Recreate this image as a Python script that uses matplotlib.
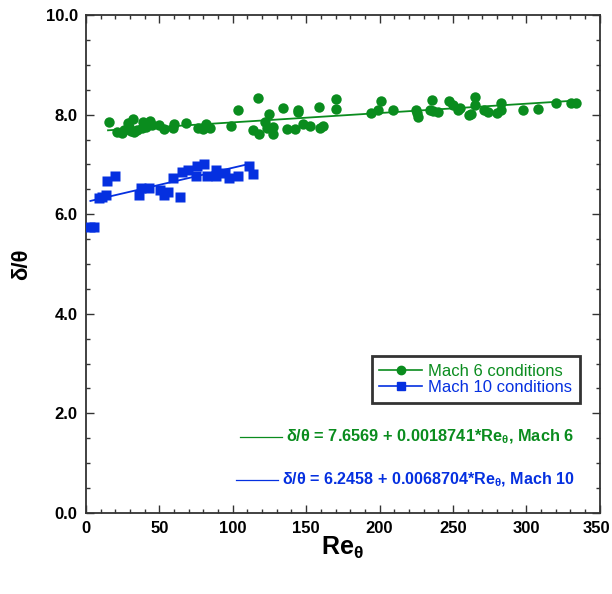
import numpy as np
import matplotlib
matplotlib.use("Agg")
import matplotlib.pyplot as plt
from matplotlib.lines import Line2D
from matplotlib.ticker import MultipleLocator, FixedLocator

plt.rcParams['font.family'] = ['Liberation Sans', 'DejaVu Sans']
plt.rcParams['mathtext.fontset'] = 'custom'
plt.rcParams['mathtext.rm'] = 'Liberation Sans:bold'
plt.rcParams['mathtext.bf'] = 'Liberation Sans:bold'
plt.rcParams['mathtext.it'] = 'Liberation Sans:bold'

# Mach 6 measurements
m6_re = [15.7, 21, 24.5, 28.5, 32, 31, 32.7, 38, 39, 43.6, 49.7, 60, 59, 68, 76, 79.7,
         81.7, 84.4, 98.5, 103.7, 113.5, 116.9, 118, 121.9, 123.5, 124.8, 127.5, 127.5,
         134.4, 136.6, 142.3, 144.1, 144.6, 148, 152.5, 158.7, 159.3, 161.6, 170, 170,
         194, 199, 200.7, 209.3, 224.7, 225.2, 226.3, 235.4, 234.2, 236.5, 239.5, 247.4,
         250.1, 253.5, 254.7, 261, 262.2, 264.9, 265.3, 271.2, 274, 279.7, 282.4, 283,
         297.8, 308, 320, 330.2, 333.6, 26, 29, 35, 41, 45, 53]
m6_dt = [7.85, 7.65, 7.63, 7.83, 7.91, 7.67, 7.65, 7.73, 7.85, 7.87, 7.79, 7.81, 7.73,
         7.83, 7.73, 7.71, 7.81, 7.74, 7.78, 8.09, 7.69, 8.34, 7.62, 7.85, 7.74, 8.01,
         7.76, 7.62, 8.13, 7.71, 7.72, 8.09, 8.05, 7.81, 7.78, 8.15, 7.74, 7.78, 8.31,
         8.11, 8.04, 8.10, 8.27, 8.10, 8.10, 8.04, 7.96, 8.29, 8.10, 8.08, 8.05, 8.28,
         8.19, 8.10, 8.13, 7.99, 8.01, 8.19, 8.35, 8.10, 8.05, 8.04, 8.09, 8.23, 8.10,
         8.11, 8.24, 8.23, 8.24, 7.70, 7.75, 7.69, 7.76, 7.80, 7.72]

# Mach 10 measurements
m10_re = [2.7, 5.4, 8.9, 11.1, 13.4, 14.5, 19.7, 36.1, 37.2, 42.9, 50.4, 53.1, 56.0,
          59.0, 64.0, 65.1, 69.7, 74.9, 75.4, 80.6, 82.2, 88.3, 88.3, 94.6, 97.4,
          103.7, 111.0, 114.0]
m10_dt = [5.75, 5.75, 6.33, 6.35, 6.39, 6.67, 6.76, 6.39, 6.53, 6.53, 6.49, 6.39, 6.45,
          6.72, 6.34, 6.85, 6.89, 6.76, 6.97, 7.00, 6.76, 6.89, 6.76, 6.82, 6.73,
          6.77, 6.97, 6.81]

# Linear fits
m6_a, m6_b = 7.6569, 0.0018741
m10_a, m10_b = 6.2458, 0.0068704
m6_fit_x = [15, 335]
m10_fit_x = [3, 112]

x_ticks = [0, 50, 100, 150, 200, 250, 300, 350]
y_ticks = [0, 2, 4, 6, 8, 10]

green = '#0A8C1E'
blue = '#0530E0'

fig = plt.figure(figsize=(6.12, 5.94), dpi=100)
ax = fig.add_axes([0.1405, 0.1364, 0.8395, 0.8383])

ax.plot(m6_fit_x, [m6_a + m6_b * x for x in m6_fit_x], color=green, lw=1.3, zorder=2)
ax.plot(m10_fit_x, [m10_a + m10_b * x for x in m10_fit_x], color=blue, lw=1.3, zorder=2)
ax.plot(m6_re, m6_dt, 'o', color=green, ms=7.5, mec='none', zorder=3)
ax.plot(m10_re, m10_dt, 's', color=blue, ms=6.5, mec='none', zorder=3)

ax.set_xlim(0, 350)
ax.set_ylim(0, 10)
ax.xaxis.set_major_locator(FixedLocator(x_ticks))
ax.xaxis.set_minor_locator(MultipleLocator(10))
ax.yaxis.set_major_locator(FixedLocator(y_ticks))
ax.yaxis.set_minor_locator(MultipleLocator(0.5))
# the rightmost label is drawn separately so it stays inside the figure
ax.set_xticklabels([str(v) for v in x_ticks[:-1]] + [''])
ax.set_yticklabels([f'{v:.1f}' for v in y_ticks])
ax.tick_params(which='both', direction='in', top=True, right=True, width=1.0,
               color='#333333')
ax.tick_params(which='major', length=6, labelsize=12, pad=6)
ax.tick_params(which='minor', length=3)
for lab in ax.get_xticklabels() + ax.get_yticklabels():
    lab.set_fontweight('bold')
for sp in ax.spines.values():
    sp.set_linewidth(1.3)
    sp.set_color('#333333')

ax.annotate(str(x_ticks[-1]), xy=(x_ticks[-1], 0), xycoords='data',
            xytext=(7.5, -6), textcoords='offset points', ha='right', va='top',
            fontsize=12, fontweight='bold', annotation_clip=False)

ax.set_xlabel(r'Re$_{\mathbf{θ}}$', fontsize=18, fontweight='bold', labelpad=-1)
ax.set_ylabel('δ/θ', fontsize=16, fontweight='bold', labelpad=10)

handles = [Line2D([], [], color=green, marker='o', ms=6, lw=1.2),
           Line2D([], [], color=blue, marker='s', ms=5.5, lw=1.2)]
leg = ax.legend(handles, ['Mach 6 conditions', 'Mach 10 conditions'],
                loc='upper left', bbox_to_anchor=(0.556, 0.315), fontsize=12,
                frameon=True, fancybox=False, handlelength=2.6, handletextpad=0.35,
                borderpad=0.45, labelspacing=0.1, borderaxespad=0)
leg.get_frame().set_edgecolor('black')
leg.get_frame().set_linewidth(2.0)
for t, c in zip(leg.get_texts(), [green, blue]):
    t.set_color(c)

# Fit equations with short key lines
ax.plot([105, 133.5], [1.53, 1.53], color=green, lw=0.9)
ax.text(136.5, 1.53, r'δ/θ = 7.6569 + 0.0018741*Re$_{\mathbf{θ}}$, Mach 6', color=green,
        fontsize=11.8, fontweight='bold', va='center', ha='left')
ax.plot([102, 130.5], [0.66, 0.66], color=blue, lw=0.9)
ax.text(133.5, 0.66, r'δ/θ = 6.2458 + 0.0068704*Re$_{\mathbf{θ}}$, Mach 10', color=blue,
        fontsize=11.6, fontweight='bold', va='center', ha='left')

fig.savefig('out.png', dpi=100)
